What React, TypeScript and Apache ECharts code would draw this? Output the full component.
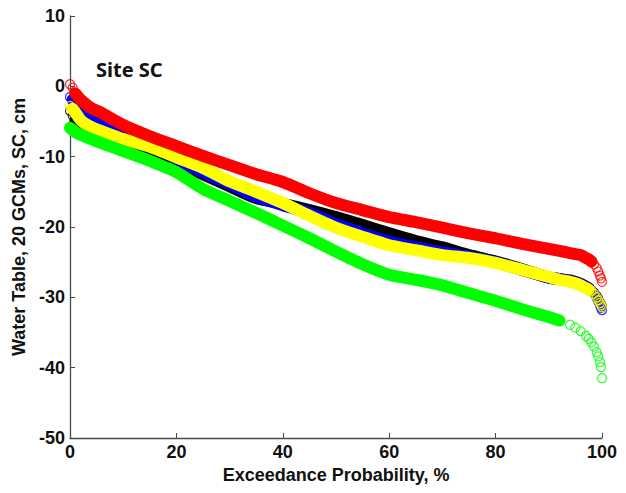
import React, { useEffect, useRef } from "react";
import * as echarts from "echarts";

// Exceedance probability (%) at which each series was read
const prob = [0, 0.5, 1, 2, 4, 6, 10, 15, 20, 25, 30, 35, 40, 45, 50, 55, 60, 65, 70, 75, 80, 85, 90, 92, 94, 95, 96, 97, 97.5, 98, 98.5, 99, 99.3, 99.6, 99.8, 100];

// Water table (cm) for each group of GCMs
const redVals = [0.3, -0.2, -1.0, -1.9, -3.1, -3.8, -5.5, -7.1, -8.5, -9.9, -11.2, -12.5, -13.6, -15.2, -16.6, -17.6, -18.6, -19.3, -20.1, -20.9, -21.6, -22.4, -23.1, -23.4, -23.7, -23.85, -24.0, -24.4, -24.6, -24.9, -25.3, -25.8, -26.3, -26.9, -27.3, -27.8];
const yellowVals = [-2.8, -3.2, -3.7, -4.8, -5.8, -6.4, -7.5, -8.6, -10.1, -11.6, -13.5, -15.0, -16.6, -18.4, -20.1, -21.4, -22.6, -23.3, -24.0, -24.4, -25.1, -26.1, -27.1, -27.5, -27.8, -28.0, -28.3, -28.7, -28.9, -29.1, -29.5, -30.0, -30.4, -30.8, -31.1, -31.4];
const blueVals = [-1.5, -1.9, -2.4, -3.1, -3.9, -4.7, -6.1, -7.6, -10.3, -12.2, -13.9, -15.7, -16.9, -18.0, -19.6, -20.9, -22.1, -22.9, -23.6, -24.2, -25.0, -26.1, -27.2, -27.4, -27.7, -27.9, -28.2, -28.6, -28.8, -29.1, -29.5, -30.1, -30.6, -31.1, -31.5, -31.8];
const blackVals = [-3.5, -4.2, -5.0, -6.1, -6.6, -7.1, -7.9, -9.2, -10.8, -12.5, -14.2, -15.9, -16.7, -17.6, -18.6, -19.7, -20.9, -22.0, -22.9, -24.0, -24.9, -26.0, -27.2, -27.4, -27.6, -27.8, -28.1, -28.5, -28.7, -29.0, -29.3, -29.8, -30.2, -30.7, -31.0, -31.3];
const greenVals = [-5.9, -6.2, -6.5, -6.9, -7.5, -8.1, -9.2, -10.6, -12.2, -14.6, -16.3, -18.0, -19.8, -21.6, -23.5, -25.3, -26.8, -27.5, -28.3, -29.4, -30.5, -31.7, -32.8, -33.3, -33.9, -34.3, -34.8, -35.5, -35.9, -36.4, -37.0, -37.8, -38.4, -39.2, -39.9, -41.5];

const xTicks = { min: 0, max: 100, interval: 20 };
const yTicks = { min: -50, max: 10, interval: 10 };

type S = { name: string; vals: number[]; color: string; head: number; tail: number };
// drawing order: first is at the bottom
const groups: S[] = [
  { name: "black", vals: blackVals, color: "#000000", head: 1, tail: 97.5 },
  { name: "blue", vals: blueVals, color: "#0000ff", head: 0.5, tail: 97.5 },
  { name: "yellow", vals: yellowVals, color: "#ffff00", head: 0.5, tail: 97.5 },
  { name: "red", vals: redVals, color: "#ff0000", head: 1, tail: 98 },
  { name: "green", vals: greenVals, color: "#00ff00", head: 0, tail: 92 },
];

const FONT = "Liberation Sans";
const FS = 18;

export default function App() {
  const ref = useRef<HTMLDivElement>(null);
  useEffect(() => {
    if (!ref.current) return;
    const chart = echarts.init(ref.current, null, { renderer: "svg" });
    const series: any[] = [];
    groups.forEach((g, gi) => {
      const pts = prob.map((p, i) => [p, g.vals[i]]);
      series.push({
        type: "line",
        name: g.name + "-band",
        data: pts.filter((d) => d[0] >= g.head && d[0] <= g.tail),
        showSymbol: false,
        smooth: 0.2,
        z: 2 + gi,
        lineStyle: { color: g.color, width: 12, cap: "round", join: "round" },
      });
      series.push({
        type: "scatter",
        name: g.name + "-ends",
        data: pts.filter((d) => d[0] <= g.head || d[0] >= g.tail),
        symbol: "circle",
        symbolSize: 9,
        z: 2 + gi,
        itemStyle: { color: "rgba(255,255,255,0)", borderColor: g.color, borderWidth: 1.2 },
      });
    });
    const textStyle = { fontFamily: FONT, fontWeight: "bold", fontSize: FS, color: "#111" };
    chart.setOption({
      animation: false,
      backgroundColor: "#ffffff",
      grid: { left: 70, right: 24, top: 16, bottom: 55, containLabel: false },
      xAxis: {
        type: "value",
        ...xTicks,
        name: "Exceedance Probability, %",
        nameLocation: "middle",
        nameGap: 25,
        nameTextStyle: textStyle,
        axisLine: { show: true, onZero: false, lineStyle: { color: "#4a4a4a", width: 1.3 } },
        axisTick: { show: true, inside: true, length: 5, lineStyle: { color: "#4a4a4a" } },
        axisLabel: { ...textStyle, margin: 5 },
        splitLine: { show: false },
      },
      yAxis: {
        type: "value",
        ...yTicks,
        name: "Water Table, 20 GCMs, SC, cm",
        nameLocation: "middle",
        nameGap: 39,
        nameRotate: 90,
        nameTextStyle: textStyle,
        axisLine: { show: true, onZero: false, lineStyle: { color: "#4a4a4a", width: 1.3 } },
        axisTick: { show: true, inside: true, length: 5, lineStyle: { color: "#4a4a4a" } },
        axisLabel: { ...textStyle, margin: 5 },
        splitLine: { show: false },
      },
      graphic: [
        {
          type: "text",
          x: 96,
          y: 69,
          style: {
            text: "Site SC",
            fontFamily: "Noto Sans",
            fontWeight: "bold",
            fontSize: 20,
            fill: "#111",
            textVerticalAlign: "middle",
          },
        },
      ],
      series,
    });
    return () => chart.dispose();
  }, []);
  return <div ref={ref} style={{ width: 626, height: 493, position: "absolute", left: 0, top: 0 }} />;
}
